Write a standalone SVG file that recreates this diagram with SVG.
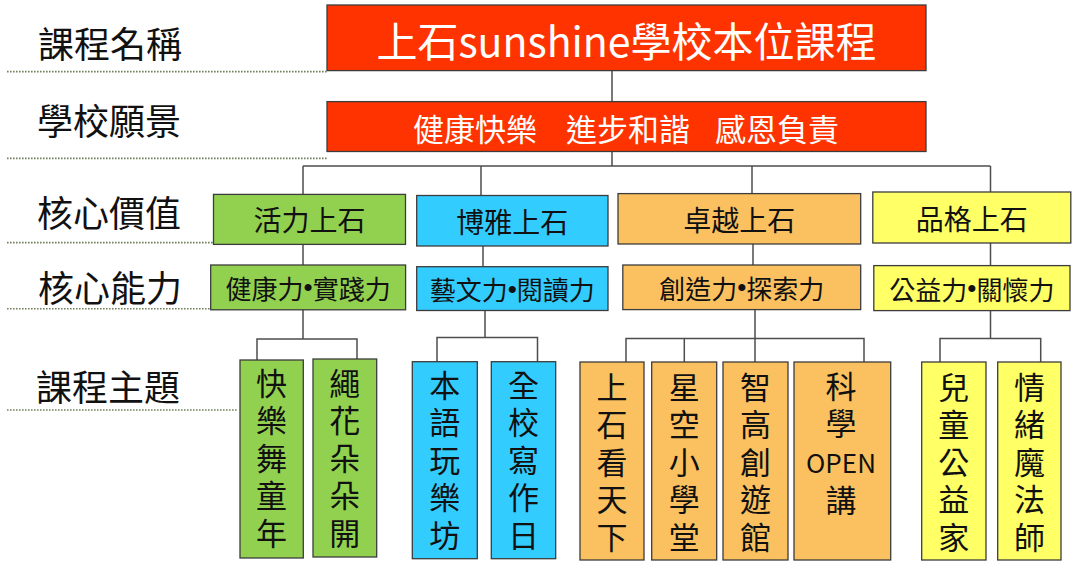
<svg xmlns="http://www.w3.org/2000/svg" width="1073" height="566" viewBox="0 0 1073 566">
<style>
text{font-family:"Noto Sans CJK TC","Noto Sans CJK SC",sans-serif;dominant-baseline:central;text-anchor:middle;fill:#111}
.lbl{font-size:36px;text-anchor:start}
.dot{stroke:#72825c;stroke-width:1.6;stroke-dasharray:1.6 1.4;fill:none}
.box{stroke:#3c3c3c;stroke-width:1.3}
.red{fill:#FF3300}
.g{fill:#92D050}.b{fill:#33CCFF}.o{fill:#FBC160}.y{fill:#FFFF66}
.w{fill:#fff}
.val{font-size:28px}
.abl{font-size:26px}
.bul{font-family:"Liberation Sans",Arial,sans-serif}
.th{font-size:31px}
.vt{font-size:31px;writing-mode:vertical-rl;letter-spacing:6.5px}
#connectors path{stroke:#4d4d4d;stroke-width:1.5;fill:none}
</style>
<rect width="1073" height="566" fill="#fff"/>
<g id="row-labels">
<text class="lbl" x="38" y="42">課程名稱</text>
<text class="lbl" x="37" y="119">學校願景</text>
<text class="lbl" x="37" y="211">核心價值</text>
<text class="lbl" x="38" y="286">核心能力</text>
<text class="lbl" x="36" y="385">課程主題</text>
<path class="dot" d="M7 71.6H327M7 158.4H327M7 242.6H218M7 308.8H216M7 410H238"/>
</g>
<g id="connectors">
<path d="M612 70.6V101.6M612 151.5V166M303 166H990.5M303 166V194.4M481 166V195.5M752 166V193.6M990.5 166V192"/>
<path d="M303 244.4V265M483 246V266.7M753 244V265M990.5 243V265.6"/>
<path d="M303 309.8V339M257 360V339H357V359M485 310.5V337.5M437 361.7V337.5H537.5V361.7M755 309.6V338.5M626 362V338.5H864V362M684.3 338.5V362M755 338.5V362M990.5 310.6V338.5M940 362V338.5H1040.7V362"/>
</g>
<g id="title">
<rect class="box red" x="327" y="5" width="599" height="65.6"/>
<text class="w" x="626.5" y="38.5" style="font-size:41px">上石sunshine學校本位課程</text>
</g>
<g id="vision">
<rect class="box red" x="327" y="101.6" width="599" height="49.9"/>
<text class="w" y="126.5" style="font-size:31px;text-anchor:start"><tspan x="413">健康快樂</tspan><tspan x="566">進步和諧</tspan><tspan x="715">感恩負責</tspan></text>
</g>
<g id="value-vitality">
<rect class="box g" x="213.5" y="194.4" width="192" height="50"/>
<text class="val" x="309.5" y="219.4">活力上石</text>
</g>
<g id="value-erudite">
<rect class="box b" x="416.7" y="195.5" width="191.3" height="50.5"/>
<text class="val" x="512.3" y="220.7">博雅上石</text>
</g>
<g id="value-excellence">
<rect class="box o" x="618" y="193.6" width="242.7" height="50.4"/>
<text class="val" x="739.3" y="218.8">卓越上石</text>
</g>
<g id="value-character">
<rect class="box y" x="872.8" y="192" width="198" height="51"/>
<text class="val" x="971.8" y="217.5">品格上石</text>
</g>
<g id="ability-vitality">
<rect class="box g" x="210.7" y="265" width="194.9" height="44.8"/>
<text class="abl" x="308.1" y="287.4">健康力<tspan class="bul">•</tspan>實踐力</text>
</g>
<g id="ability-erudite">
<rect class="box b" x="416.7" y="266.7" width="191.3" height="43.8"/>
<text class="abl" x="512.3" y="288.6">藝文力<tspan class="bul">•</tspan>閱讀力</text>
</g>
<g id="ability-excellence">
<rect class="box o" x="622.8" y="265" width="237.9" height="44.6"/>
<text class="abl" x="741.7" y="287.3">創造力<tspan class="bul">•</tspan>探索力</text>
</g>
<g id="ability-character">
<rect class="box y" x="873.8" y="265.6" width="196.2" height="45"/>
<text class="abl" x="971.9" y="288.1">公益力<tspan class="bul">•</tspan>關懷力</text>
</g>
<g id="theme-1">
<rect class="box g" x="240" y="360" width="63.3" height="198"/>
<text class="vt" x="271.6" y="461">快樂舞童年</text>
</g>
<g id="theme-2">
<rect class="box g" x="313" y="359" width="63.7" height="198"/>
<text class="vt" x="344.8" y="461">繩花朵朵開</text>
</g>
<g id="theme-3">
<rect class="box b" x="412.3" y="361.7" width="65" height="197"/>
<text class="vt" x="444.8" y="463">本語玩樂坊</text>
</g>
<g id="theme-4">
<rect class="box b" x="491.3" y="361.7" width="64.4" height="197"/>
<text class="vt" x="523.5" y="463">全校寫作日</text>
</g>
<g id="theme-5">
<rect class="box o" x="580" y="362" width="64" height="198"/>
<text class="vt" x="612" y="465">上石看天下</text>
</g>
<g id="theme-6">
<rect class="box o" x="651.7" y="362" width="65" height="198"/>
<text class="vt" x="684.2" y="465">星空小學堂</text>
</g>
<g id="theme-7">
<rect class="box o" x="723" y="362" width="65" height="198"/>
<text class="vt" x="755.5" y="465">智高創遊館</text>
</g>
<g id="theme-8">
<rect class="box o" x="794" y="362" width="96.7" height="198"/>
<text class="vt" x="841" y="408">科學</text>
<text x="841" y="461" style="font-size:26px">OPEN</text>
<text class="th" x="841" y="498.5">講</text>
</g>
<g id="theme-9">
<rect class="box y" x="921.7" y="362" width="64.3" height="198"/>
<text class="vt" x="953.8" y="465">兒童公益家</text>
</g>
<g id="theme-10">
<rect class="box y" x="997.7" y="362" width="63.3" height="198"/>
<text class="vt" x="1029.4" y="465">情緒魔法師</text>
</g>
</svg>
